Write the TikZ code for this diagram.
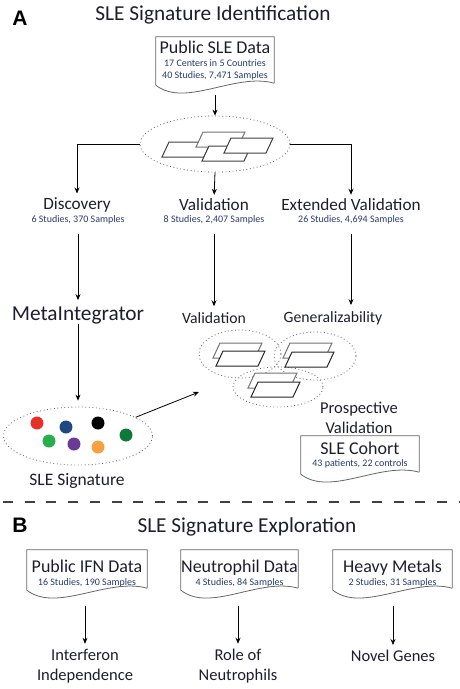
\documentclass[tikz,border=0pt]{standalone}
\usepackage{fontspec}
\setmainfont{Carlito}
\newfontfamily\panelfont{Liberation Sans}
\usetikzlibrary{shapes.geometric,arrows.meta,positioning,calc}
\definecolor{ink}{RGB}{28,30,48}
\definecolor{subblue}{RGB}{38,58,112}
\definecolor{sigred}{RGB}{232,48,42}
\definecolor{signavy}{RGB}{30,72,130}
\definecolor{siggreen}{RGB}{40,175,75}
\definecolor{sigpurple}{RGB}{106,58,150}
\definecolor{sigorange}{RGB}{247,160,64}
\definecolor{sigdkgreen}{RGB}{14,122,58}
\newcommand\docfont{\fontsize{18}{19}\selectfont}
\newcommand\notefont{\fontsize{10}{12.5}\selectfont}
\newcommand\sheet[3]{\filldraw[fill=white,draw=#3,line width=1pt] (#1,#2) -- ++(42,0) -- ++(-7,15) -- ++(-42,0) -- cycle;}
\newcommand\docframe[1]{\draw[docline] ($(#1.south east)+(0,-2)$) -- (#1.north east) -- (#1.north west) -- (#1.south west)
  .. controls ($(#1.south west)!0.25!(#1.south east)+(0,23)$) and ($(#1.south west)!0.67!(#1.south east)+(0,-13)$) .. ($(#1.south east)+(0,-2)$);}
\begin{document}
\begin{tikzpicture}[x=1pt,y=-1pt,
  ttl/.style={font=\fontsize{21.3}{24}\selectfont,text=ink,inner sep=0pt},
  lbl/.style={font=\fontsize{16.5}{20}\selectfont,text=ink,inner sep=0pt,align=center},
  sublbl/.style={font=\fontsize{15.7}{18}\selectfont,text=ink,inner sep=0pt},
  note/.style={font=\notefont,text=subblue,inner sep=0pt},
  panel/.style={font=\panelfont\bfseries\fontsize{21}{24}\selectfont,inner sep=0pt},
  doc/.style={inner sep=0pt,align=center,text=subblue,font=\notefont},
  docline/.style={draw=black!60,line width=0.8pt},
  pool/.style={ellipse,draw=black!60,line width=0.8pt,dash pattern=on 0.9pt off 2.6pt,inner sep=0pt},
  arr/.style={-{Stealth[length=6pt,width=5pt]},line width=0.8pt,black}]
\useasboundingbox (0,0) rectangle (460,689);
\node[panel] (pa) at (20,18) {A};
\node[ttl] (ta) at (213,15) {SLE Signature Identification};
\node[doc,minimum width=118,minimum height=48] (sledata) at (215,61)
 {{\docfont\color{ink}Public SLE Data}\\17 Centers in 5 Countries\\40 Studies, 7,471 Samples};
\docframe{sledata}
\node[pool,minimum width=150,minimum height=56] (pool) at (215,144) {};
\sheet{169}{142}{black!75}
\sheet{203}{132}{black!55}
\sheet{209}{146}{black!75}
\sheet{231}{138}{black!75}
\node[lbl,font=\fontsize{17.2}{20}\selectfont] (disc) at (77,205) {Discovery};
\node[note] (discn) at (78,220) {6 Studies, 370 Samples};
\node[lbl,font=\fontsize{17.2}{20}\selectfont] (val) at (214,205) {Validation};
\node[note] (valn) at (214,220) {8 Studies, 2,407 Samples};
\node[lbl,font=\fontsize{17.2}{20}\selectfont] (ext) at (351,205) {Extended Validation};
\node[note] (extn) at (351,220) {26 Studies, 4,694 Samples};
\draw[arr,shorten <=10pt] (sledata.south) -- (pool.north);
\draw[arr,shorten >=4pt] (pool.west) -| (disc.north);
\draw[arr,shorten >=4pt] (pool.south) -- (val.north);
\draw[arr,shorten >=4pt] (pool.east) -| (ext.north);
\node[ttl] (meta) at (78,315) {MetaIntegrator};
\node[sublbl] (valtxt) at (214,318) {Validation};
\node[sublbl] (gen) at (333,318) {Generalizability};
\draw[arr,shorten <=10pt,shorten >=6pt] (discn.south) -- (meta.north);
\draw[arr,shorten <=10pt,shorten >=6pt] (valn.south) -- (valtxt.north);
\draw[arr,shorten <=10pt,shorten >=6pt] (extn.south) -- (extn.south |- gen.north);
\node[pool,minimum width=82,minimum height=48] (cl) at (240,354) {};
\node[pool,minimum width=82,minimum height=48] (cr) at (315,356) {};
\node[pool,minimum width=90,minimum height=40] (cb) at (278,387) {};
\sheet{220}{343}{black!55}
\sheet{223}{351}{black!85}
\sheet{290}{343}{black!55}
\sheet{292}{352}{black!85}
\sheet{255}{373}{black!55}
\sheet{258}{382}{black!85}
\node[lbl] (prosp) at (359,418) {Prospective\\Validation};
\node[doc,minimum width=118,minimum height=38] (cohort) at (360,455)
 {{\docfont\color{ink}SLE Cohort}\\43 patients, 22 controls};
\docframe{cohort}
\node[pool,minimum width=149,minimum height=58] (sig) at (78,436) {};
\fill[sigred] (37,423) circle (6.5);
\fill[signavy] (66,427) circle (6.5);
\fill[black] (98,423) circle (6.5);
\fill[siggreen] (49,441) circle (6.5);
\fill[sigpurple] (74,444) circle (6.5);
\fill[sigorange] (98,447) circle (6.5);
\fill[sigdkgreen] (126,435) circle (6.5);
\node[lbl,font=\fontsize{17.5}{20}\selectfont] (sigtxt) at (77,481) {SLE Signature};
\coordinate (valin) at (199,392);
\draw[arr,shorten >=6pt] (meta.south) -- (sig.north);
\draw[arr] (sig.18) -- (valin);
\coordinate (sepl) at (3,502);
\coordinate (sepr) at (460,502);
\draw[black!75,line width=2pt,dash pattern=on 10pt off 11.7pt] (sepl) -- (sepr);
\node[panel] (pb) at (20,525) {B};
\node[ttl] (tb) at (247,527) {SLE Signature Exploration};
\node[doc,minimum width=120,minimum height=40] (ifn) at (87,570)
 {{\docfont\color{ink}\rule{0pt}{20pt}Public IFN Data}\\16 Studies, 190 Samples};
\node[doc,minimum width=117,minimum height=40] (neu) at (239.5,570)
 {{\docfont\color{ink}\rule{0pt}{20pt}Neutrophil Data}\\4 Studies, 84 Samples};
\node[doc,minimum width=119,minimum height=40] (metal) at (392.5,570)
 {{\docfont\color{ink}\rule{0pt}{20pt}Heavy Metals}\\2 Studies, 31 Samples};
\docframe{ifn}
\docframe{neu}
\docframe{metal}
\node[lbl] (ifnres) at (85,666) {Interferon\\Independence};
\node[lbl] (neures) at (238,666) {Role of\\Neutrophils};
\node[lbl] (novel) at (393,656) {Novel Genes};
\draw[arr,shorten <=16pt,shorten >=5pt] (ifnres.north |- ifn.south) -- (ifnres.north);
\draw[arr,shorten <=16pt,shorten >=5pt] (neures.north |- neu.south) -- (neures.north);
\draw[arr,shorten <=16pt,shorten >=5pt] (novel.north |- metal.south) -- (novel.north);
\end{tikzpicture}
\end{document}
